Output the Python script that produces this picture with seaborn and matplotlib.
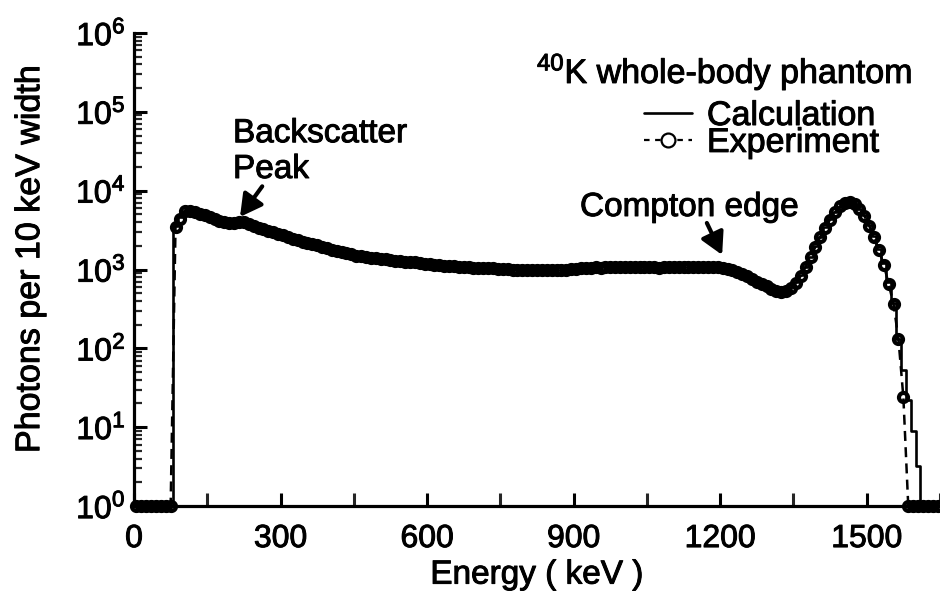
import numpy as np
import pandas as pd
import matplotlib
matplotlib.use("Agg")
import matplotlib.pyplot as plt
import matplotlib.patheffects as pe
from matplotlib.lines import Line2D
from matplotlib.ticker import FixedLocator, FixedFormatter, LogLocator, NullFormatter
import seaborn as sns

# 10 keV bins, centres 5 ... 1645 keV
energy_kev = list(range(5, 1650, 10))

# Measured pulse-height spectrum (photons per 10 keV)
experiment = [
    1, 1, 1, 1, 1, 1, 1, 1,
    3500, 4400, 5600, 5500, 5300, 5100, 4900, 4600, 4400, 4150,
    4000, 3900, 3850, 3950, 4000, 3750, 3550, 3400, 3250, 3100,
    2950, 2800, 2700, 2550, 2450, 2350, 2250, 2180, 2100, 2020,
    1950, 1850, 1780, 1720, 1680, 1610, 1560, 1500, 1470, 1430,
    1410, 1390, 1370, 1360, 1330, 1300, 1290, 1260, 1250, 1230,
    1200, 1190, 1170, 1150, 1140, 1120, 1110, 1100, 1090, 1080,
    1070, 1060, 1050, 1045, 1040, 1030, 1025, 1015, 1010, 1000,
    995, 990, 985, 990, 980, 975, 985, 980, 990, 985,
    1000, 1010, 1020, 1040, 1050, 1060, 1070, 1060, 1075, 1070,
    1080, 1065, 1075, 1070, 1080, 1070, 1065, 1075, 1070, 1060,
    1075, 1070, 1065, 1075, 1080, 1070, 1075, 1080, 1070, 1075,
    1080, 1070, 1050, 1020, 990, 940, 880, 820, 760, 700,
    650, 610, 570, 540, 520, 535, 590, 680, 830, 1080,
    1450, 1950, 2600, 3400, 4300, 5300, 6300, 7000, 7100, 6700,
    5900, 4800, 3600, 2550, 1750, 1150, 650, 360, 130, 24,
    1, 1, 1, 1, 1, 1, 1,
]

# Monte Carlo calculation of the same spectrum
calculation = [
    1, 1, 1, 1, 1, 1, 1, 1,
    3600, 4600, 5500, 5450, 5300, 5100, 4850, 4600, 4350, 4150,
    4000, 3900, 3880, 3920, 3950, 3780, 3580, 3420, 3260, 3100,
    2960, 2820, 2690, 2560, 2450, 2350, 2260, 2170, 2090, 2010,
    1940, 1860, 1790, 1730, 1670, 1610, 1560, 1510, 1470, 1440,
    1410, 1390, 1370, 1350, 1330, 1310, 1290, 1270, 1250, 1230,
    1210, 1190, 1170, 1155, 1140, 1125, 1110, 1100, 1090, 1080,
    1070, 1060, 1050, 1045, 1040, 1030, 1020, 1015, 1010, 1000,
    995, 990, 988, 985, 982, 980, 982, 984, 988, 992,
    1000, 1010, 1025, 1040, 1050, 1060, 1065, 1068, 1070, 1072,
    1073, 1072, 1072, 1073, 1074, 1073, 1072, 1072, 1071, 1071,
    1072, 1072, 1073, 1074, 1075, 1075, 1076, 1076, 1075, 1074,
    1072, 1065, 1045, 1015, 980, 935, 880, 820, 760, 705,
    655, 610, 575, 545, 525, 540, 595, 690, 840, 1090,
    1460, 1970, 2620, 3420, 4320, 5300, 6250, 6950, 7050, 6700,
    5900, 4850, 3700, 2650, 1800, 1200, 700, 380, 130, 53,
    22, 9, 3.2, 1, 1, 1, 1,
]

spectrum = pd.DataFrame({
    "energy": energy_kev,
    "experiment": experiment,
    "calculation": calculation,
})

sns.set_theme(style="ticks")
plt.rcParams["font.family"] = ["Liberation Sans", "DejaVu Sans"]
plt.rcParams["mathtext.fontset"] = "custom"
plt.rcParams["mathtext.rm"] = "Liberation Sans"
plt.rcParams["mathtext.it"] = "Liberation Sans:italic"
plt.rcParams["mathtext.bf"] = "Liberation Sans:bold"

W, H = 940, 598
fig = plt.figure(figsize=(W / 100, H / 100), dpi=100)
ax = fig.add_axes([134 / W, 1 - 506 / H, (W - 134) / W, (506 - 33) / H])

FS = 24
# slightly heavier glyphs for all text
heavy = [pe.withStroke(linewidth=0.7, foreground="black")]

# calculation: step histogram
sns.lineplot(data=spectrum, x="energy", y="calculation", ax=ax,
             drawstyle="steps-mid", color="black", linewidth=1.9,
             estimator=None, zorder=3)

# experiment: dashed line with open circles
sns.lineplot(data=spectrum, x="energy", y="experiment", ax=ax,
             color="black", linewidth=1.8, linestyle="--", dashes=False,
             marker="o", markersize=6.5, markerfacecolor="none",
             markeredgecolor="black", markeredgewidth=3.0,
             estimator=None, clip_on=False, zorder=4)
for ln in ax.lines[1:]:
    ln.set_dashes([4, 2.5])

ax.set_yscale("log")
ax.set_xlim(0, 1650)
ax.set_ylim(1, 1e6)

# axes frame: left and bottom only, heavy lines
for side in ("top", "right"):
    ax.spines[side].set_visible(False)
for side in ("left", "bottom"):
    ax.spines[side].set_linewidth(2.3)
    ax.spines[side].set_color("black")

decades = [1e0, 1e1, 1e2, 1e3, 1e4, 1e5, 1e6]
decade_labels = [r"$10^{%d}$" % i for i in range(7)]
ax.yaxis.set_major_locator(FixedLocator(decades))
ax.yaxis.set_major_formatter(FixedFormatter(decade_labels))
ax.yaxis.set_minor_locator(LogLocator(base=10, subs=np.arange(2, 10), numticks=20))
ax.yaxis.set_minor_formatter(NullFormatter())

xticks = [0, 300, 600, 900, 1200, 1500]
ax.xaxis.set_major_locator(FixedLocator(xticks))
ax.xaxis.set_major_formatter(FixedFormatter([str(t) for t in xticks]))
ax.xaxis.set_minor_locator(FixedLocator([150, 450, 750, 1050, 1350, 1650]))

ax.tick_params(axis="both", which="major", direction="in", length=9.5,
               width=2.2, color="black", labelsize=FS - 1, labelcolor="black")
ax.tick_params(axis="x", which="major", pad=13)
ax.tick_params(axis="y", which="major", pad=6)
ax.tick_params(axis="x", which="minor", direction="in", length=9.5, width=2.2)
ax.tick_params(axis="y", which="minor", direction="in", length=5.5, width=1.6)

ax.set_xlabel("Energy ( keV )", fontsize=FS, color="black", labelpad=4)
ax.set_ylabel("Photons per 10 keV width", fontsize=FS + 0.5, color="black")
ax.yaxis.set_label_coords(-0.109, 0.522)

# title and legend
fig.text(912 / W, 1 - 83 / H, r"$^{40}$K whole-body phantom", fontsize=FS + 0.5,
         ha="right", va="baseline", color="black", path_effects=heavy)

handles = [
    Line2D([], [], color="black", lw=1.9),
    Line2D([], [], color="black", lw=1.6, ls=(0, (2.5, 2.5)), marker="o",
           markersize=10, markerfacecolor="white", markeredgecolor="black",
           markeredgewidth=1.6),
]
leg = ax.legend(handles, ["Calculation", "Experiment"], fontsize=FS + 0.5,
                frameon=False, loc="upper left",
                bbox_to_anchor=(644 / W, 1 - 101 / H),
                bbox_transform=fig.transFigure, borderpad=0, borderaxespad=0,
                handlelength=1.4, handletextpad=0.45, labelspacing=-0.12,
                numpoints=1, labelcolor="black")

# feature labels with arrows
fig.text(233 / W, 1 - 178 / H, "Backscatter\nPeak", fontsize=FS, ha="left",
         va="baseline", linespacing=1.2, color="black", path_effects=heavy)
fig.text(580 / W, 1 - 216 / H, "Compton edge", fontsize=FS, ha="left",
         va="baseline", color="black", path_effects=heavy)

arrow = dict(arrowstyle="-|>,head_length=0.6,head_width=0.33", lw=3.0,
             color="black", shrinkA=0, shrinkB=0, mutation_scale=22)
ax.annotate("", xy=(217, 4650), xytext=(16, 22), textcoords="offset points",
            arrowprops=arrow)
ax.annotate("", xy=(1204, 1530), xytext=(-11, 23), textcoords="offset points",
            arrowprops=arrow)

# heavier glyphs on axis text as well
for t in (ax.get_xticklabels() + ax.get_yticklabels() + leg.get_texts()
          + [ax.xaxis.label, ax.yaxis.label]):
    t.set_path_effects(heavy)

fig.savefig("out.png", dpi=100, facecolor="white")
